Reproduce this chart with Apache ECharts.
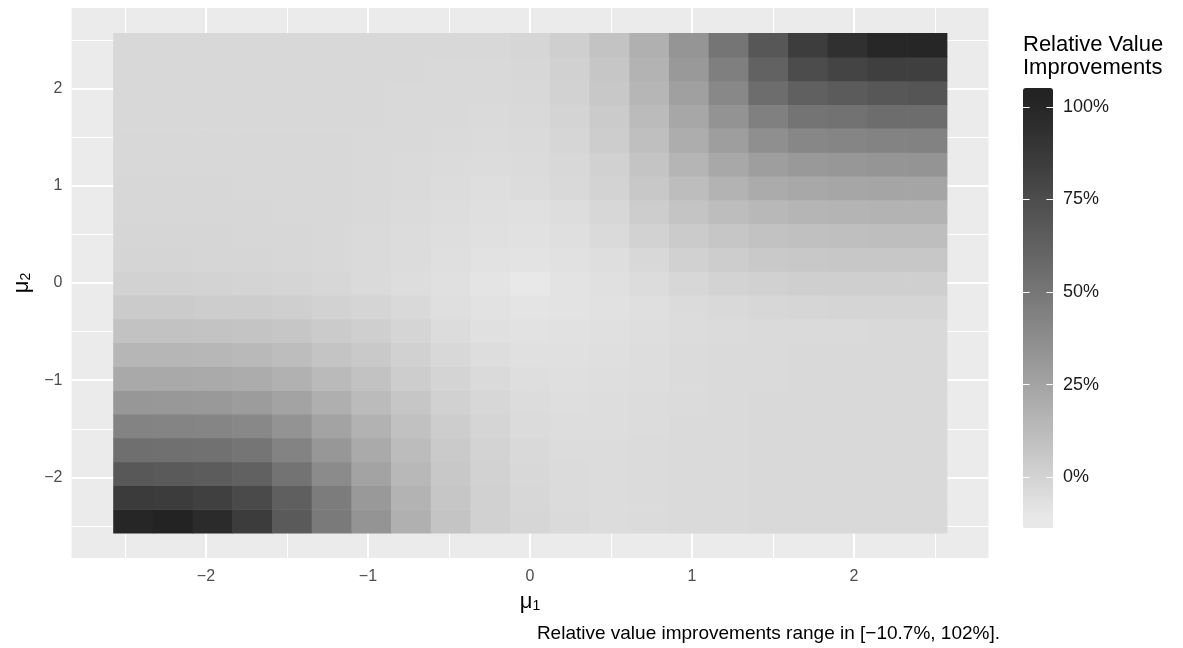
<!DOCTYPE html>
<html>
<head>
<meta charset="utf-8">
<title>Relative value improvements</title>
<script src="https://cdn.jsdelivr.net/npm/echarts@6/dist/echarts.min.js"></script>
<style>
  html, body { margin: 0; padding: 0; background: #fff; }
  #chart { width: 1183px; height: 648px; }
</style>
</head>
<body>
<div id="chart"></div>
<script>
// grid of mu values (cell centres)
var mu1 = [-2.45, -2.205, -1.96, -1.715, -1.47, -1.225, -0.98, -0.735, -0.49, -0.245, 0,
           0.245, 0.49, 0.735, 0.98, 1.225, 1.47, 1.715, 1.96, 2.205, 2.45];
var mu2 = [-2.45, -2.205, -1.96, -1.715, -1.47, -1.225, -0.98, -0.735, -0.49, -0.245, 0,
           0.245, 0.49, 0.735, 0.98, 1.225, 1.47, 1.715, 1.96, 2.205, 2.45];

// relative value improvements (%), one row per mu2 value (bottom row first), columns follow mu1
var improvement = [
  [99.8, 102.0, 96.4, 85.2, 66.7, 48.0, 33.3, 18.4, 7.7, 1.5, -1.5, -3.5, -4.7, -4.1, -3.5, -3.5, -3.0, -3.0, -3.0, -3.0, -3.0],
  [85.9, 85.2, 82.7, 76.5, 63.7, 46.9, 30.6, 16.8, 6.6, 1.5, -2.0, -4.1, -4.7, -4.1, -3.5, -3.5, -3.0, -3.0, -3.0, -3.0, -3.0],
  [67.9, 66.7, 65.6, 62.5, 52.1, 38.4, 25.3, 14.1, 5.6, 0.5, -2.5, -4.1, -4.7, -4.1, -3.5, -3.5, -3.0, -3.0, -3.0, -3.0, -3.0],
  [54.4, 53.8, 53.2, 50.9, 42.8, 31.7, 21.5, 12.0, 4.6, 0.0, -3.0, -4.7, -4.7, -4.1, -3.5, -3.5, -3.0, -3.0, -3.0, -3.0, -3.0],
  [42.8, 42.3, 41.7, 40.1, 33.9, 25.3, 17.2, 9.4, 3.1, -1.0, -4.1, -5.2, -5.2, -4.7, -3.5, -3.5, -3.0, -3.0, -3.0, -3.0, -3.0],
  [31.7, 31.2, 30.6, 29.4, 25.3, 18.9, 12.5, 6.6, 1.5, -2.0, -4.7, -5.7, -5.2, -4.7, -4.1, -3.5, -3.0, -3.0, -3.0, -3.0, -3.0],
  [22.1, 22.1, 21.5, 20.5, 17.8, 13.0, 8.9, 3.5, -0.5, -3.5, -5.7, -6.2, -5.7, -5.2, -4.1, -3.5, -3.5, -3.0, -3.0, -3.0, -3.0],
  [15.2, 15.2, 14.6, 13.6, 11.5, 7.7, 5.1, 1.0, -2.5, -5.2, -6.7, -6.7, -6.2, -5.2, -4.1, -3.5, -3.5, -3.0, -3.0, -3.0, -3.0],
  [8.9, 8.9, 8.3, 7.7, 6.6, 4.1, 2.1, -1.0, -4.7, -6.7, -7.7, -7.2, -6.7, -5.7, -4.7, -4.1, -3.5, -3.5, -3.5, -3.0, -3.0],
  [4.1, 4.1, 3.5, 3.1, 2.1, 0.5, -1.0, -3.0, -6.2, -7.7, -8.7, -8.2, -7.2, -6.2, -4.1, -3.0, -2.0, -1.5, -1.0, -1.0, -1.0],
  [0.5, 0.5, 0.0, -0.5, -1.0, -2.0, -3.5, -5.2, -6.7, -8.7, -10.7, -8.2, -6.7, -4.7, -2.0, 0.0, 1.5, 2.1, 2.1, 2.1, 2.1],
  [-1.0, -1.0, -1.5, -1.5, -2.0, -2.5, -3.5, -4.7, -6.2, -7.7, -8.2, -7.2, -5.7, -2.5, 1.5, 3.5, 5.1, 5.6, 6.1, 6.1, 6.1],
  [-1.5, -1.5, -1.5, -2.0, -2.0, -2.5, -3.5, -4.7, -5.7, -6.7, -7.2, -6.2, -3.5, 0.5, 4.1, 6.6, 8.9, 9.9, 10.5, 10.9, 10.9],
  [-2.0, -2.0, -2.0, -2.0, -2.5, -2.5, -3.0, -4.1, -5.2, -6.2, -6.7, -5.2, -2.0, 3.1, 7.7, 11.5, 14.1, 15.7, 16.2, 16.8, 16.8],
  [-2.0, -2.0, -2.0, -2.5, -2.5, -2.5, -3.0, -3.5, -4.7, -5.7, -4.7, -3.0, 0.0, 5.6, 11.5, 16.8, 20.9, 22.5, 23.7, 24.1, 24.1],
  [-2.5, -2.5, -2.5, -2.5, -2.5, -2.5, -3.0, -3.5, -4.1, -4.7, -4.1, -2.5, 1.5, 7.7, 15.7, 22.5, 27.9, 30.6, 31.7, 32.8, 33.3],
  [-2.5, -2.5, -2.5, -2.5, -2.5, -2.5, -3.0, -3.0, -3.5, -4.1, -3.5, -1.5, 3.1, 10.5, 19.9, 28.4, 36.2, 40.5, 41.7, 42.8, 43.7],
  [-2.5, -2.5, -2.5, -2.5, -2.5, -2.5, -2.5, -3.0, -3.0, -3.5, -3.0, -0.5, 4.1, 12.5, 23.1, 33.9, 44.6, 51.5, 52.6, 55.0, 55.5],
  [-2.5, -2.5, -2.5, -2.5, -2.5, -2.5, -2.5, -3.0, -3.0, -3.0, -2.5, 0.5, 5.6, 15.2, 26.9, 40.1, 55.0, 63.1, 66.2, 68.5, 69.8],
  [-2.5, -2.5, -2.5, -2.5, -2.5, -2.5, -2.5, -2.5, -3.0, -3.0, -2.0, 1.5, 6.6, 16.8, 30.6, 45.1, 62.0, 75.2, 80.3, 83.3, 83.3],
  [-2.5, -2.5, -2.5, -2.5, -2.5, -2.5, -2.5, -2.5, -2.5, -2.5, -1.5, 2.1, 8.3, 18.4, 32.8, 50.9, 68.5, 84.6, 93.6, 99.1, 99.8]
];

var valueRange = [-10.7, 102];
var axisTicks = [-2, -1, 0, 1, 2];
var minorTicks = [-2.5, -1.5, -0.5, 0.5, 1.5, 2.5];
var legendTicks = [0, 25, 50, 75, 100];
var captionText = 'Relative value improvements range in [\u221210.7%, 102%].';

var FONT = '"Liberation Sans", Arial, sans-serif';
var cellSize = 0.245;
var axisLimit = 2.83;           // heatmap extent plus 5% padding
var barLimits = [-13.7, 105.1]; // span of the colour bar
var tickFrac = 0.22;            // legend tick length as share of bar width

// gray ramp interpolated on L* (like ggplot's gradient), clamped to the data range
function lstar(g) {
  var s = g / 255;
  var y = s <= 0.04045 ? s / 12.92 : Math.pow((s + 0.055) / 1.055, 2.4);
  var f = y > 0.008856 ? Math.cbrt(y) : (7.787 * y + 16 / 116);
  return 116 * f - 16;
}
function grayFromL(L) {
  var f = (L + 16) / 116;
  var y = f > 0.2069 ? f * f * f : (f - 16 / 116) / 7.787;
  var s = y <= 0.0031308 ? 12.92 * y : 1.055 * Math.pow(y, 1 / 2.4) - 0.055;
  var g = Math.max(0, Math.min(255, Math.round(s * 255)));
  var h = g.toString(16); if (h.length < 2) h = '0' + h;
  return '#' + h + h + h;
}
var L_LOW = lstar(0xe8), L_HIGH = lstar(0x23);
var ramp = [];
for (var k = 0; k < 120; k++) {
  var v = barLimits[0] + (barLimits[1] - barLimits[0]) * k / 119;
  var t = (Math.min(Math.max(v, valueRange[0]), valueRange[1]) - valueRange[0]) / (valueRange[1] - valueRange[0]);
  ramp.push(grayFromL(L_LOW + t * (L_HIGH - L_LOW)));
}

var cells = [];
for (var i = 0; i < mu2.length; i++) {
  for (var j = 0; j < mu1.length; j++) {
    cells.push([mu1[j], mu2[i], improvement[i][j]]);
  }
}

function minus(v) { return String(v).replace('-', '\u2212'); }
function gridLines(values, dim, width) {
  return values.map(function (v) { var o = {}; o[dim] = v; o.lineStyle = { width: width }; return o; });
}
// white notches on both edges of the colour bar
var legendNotches = [];
legendTicks.forEach(function (v) {
  legendNotches.push([{ coord: [0, v] }, { coord: [tickFrac, v] }]);
  legendNotches.push([{ coord: [1 - tickFrac, v] }, { coord: [1, v] }]);
});

// mu with a lowered index
var muRich = {
  m: { fontSize: 22, fontFamily: FONT, color: '#000', lineHeight: 24, verticalAlign: 'bottom' },
  s: { fontSize: 14, fontFamily: FONT, color: '#000', lineHeight: 12, verticalAlign: 'bottom' }
};

var myChart = echarts.init(document.getElementById('chart'), null, { renderer: 'canvas' });

var option = {
  animation: false,
  textStyle: { fontFamily: FONT },
  grid: [
    { left: 71.5, top: 8, width: 917, height: 550, show: true, backgroundColor: '#ebebeb', borderWidth: 0, containLabel: false, outerBoundsMode: 'none' },
    { left: 1023, top: 88, width: 30, height: 440, show: false, containLabel: false, outerBoundsMode: 'none' }
  ],
  xAxis: [
    {
      type: 'value', gridIndex: 0, min: -axisLimit, max: axisLimit,
      name: '{m|\u03bc}{s|1}', nameLocation: 'middle', nameGap: 31,
      nameTextStyle: { color: '#000', rich: muRich },
      axisLine: { show: false },
      splitLine: { show: false },
      axisTick: { show: true, length: 5, lineStyle: { color: '#333', width: 1 }, customValues: axisTicks },
      axisLabel: { customValues: axisTicks, color: '#4d4d4d', fontSize: 16, margin: 11, formatter: minus }
    },
    { type: 'value', gridIndex: 1, min: 0, max: 1, show: false }
  ],
  yAxis: [
    {
      type: 'value', gridIndex: 0, min: -axisLimit, max: axisLimit,
      name: '{m|\u03bc}{s|2}', nameLocation: 'middle', nameGap: 30, nameRotate: 90,
      nameTextStyle: { color: '#000', rich: muRich },
      axisLine: { show: false },
      splitLine: { show: false },
      axisTick: { show: true, length: 5, lineStyle: { color: '#333', width: 1 }, customValues: axisTicks },
      axisLabel: { customValues: axisTicks, color: '#4d4d4d', fontSize: 16, margin: 9, formatter: minus }
    },
    {
      type: 'value', gridIndex: 1, position: 'right', min: barLimits[0], max: barLimits[1],
      axisLine: { show: false }, splitLine: { show: false }, axisTick: { show: false },
      axisLabel: { customValues: legendTicks, color: '#1a1a1a', fontSize: 18, margin: 10, formatter: '{value}%' }
    }
  ],
  visualMap: {
    type: 'continuous', seriesIndex: 0, dimension: 2,
    min: barLimits[0], max: barLimits[1],
    calculable: false, orient: 'vertical',
    left: 1023, top: 88, padding: 0,
    itemWidth: 30, itemHeight: 440,
    inRange: { color: ramp }
  },
  graphic: [
    {
      type: 'text', left: 1023, top: 33,
      style: { text: 'Relative Value\nImprovements', font: '22px ' + FONT, fill: '#000', lineHeight: 23 }
    },
    {
      type: 'text', right: 183, top: 624,
      style: { text: captionText, font: '19px ' + FONT, fill: '#000' }
    }
  ],
  series: [
    {
      type: 'custom', name: 'improvement', xAxisIndex: 0, yAxisIndex: 0, z: 5,
      encode: { x: 0, y: 1 },
      data: cells,
      renderItem: function (params, api) {
        var c = api.coord([api.value(0), api.value(1)]);
        var s = api.size([cellSize, cellSize]);
        return {
          type: 'rect',
          shape: { x: c[0] - s[0] / 2, y: c[1] - s[1] / 2, width: s[0] + 0.6, height: s[1] + 0.6 },
          style: { fill: api.visual('color') }
        };
      }
    },
    {
      type: 'line', xAxisIndex: 0, yAxisIndex: 0, data: [], z: 1,
      markLine: {
        silent: true, symbol: ['none', 'none'], label: { show: false },
        lineStyle: { color: '#fff', type: 'solid', width: 1 },
        data: gridLines(minorTicks, 'xAxis', 1).concat(gridLines(minorTicks, 'yAxis', 1))
      }
    },
    {
      type: 'line', xAxisIndex: 0, yAxisIndex: 0, data: [], z: 1,
      markLine: {
        silent: true, symbol: ['none', 'none'], label: { show: false },
        lineStyle: { color: '#fff', type: 'solid', width: 2 },
        data: gridLines(axisTicks, 'xAxis', 2).concat(gridLines(axisTicks, 'yAxis', 2))
      }
    },
    {
      type: 'line', xAxisIndex: 1, yAxisIndex: 1, data: [], zlevel: 1,
      markLine: {
        silent: true, symbol: ['none', 'none'], label: { show: false },
        lineStyle: { color: '#fff', type: 'solid', width: 1 },
        data: legendNotches
      }
    }
  ]
};

myChart.setOption(option);
</script>
</body>
</html>
